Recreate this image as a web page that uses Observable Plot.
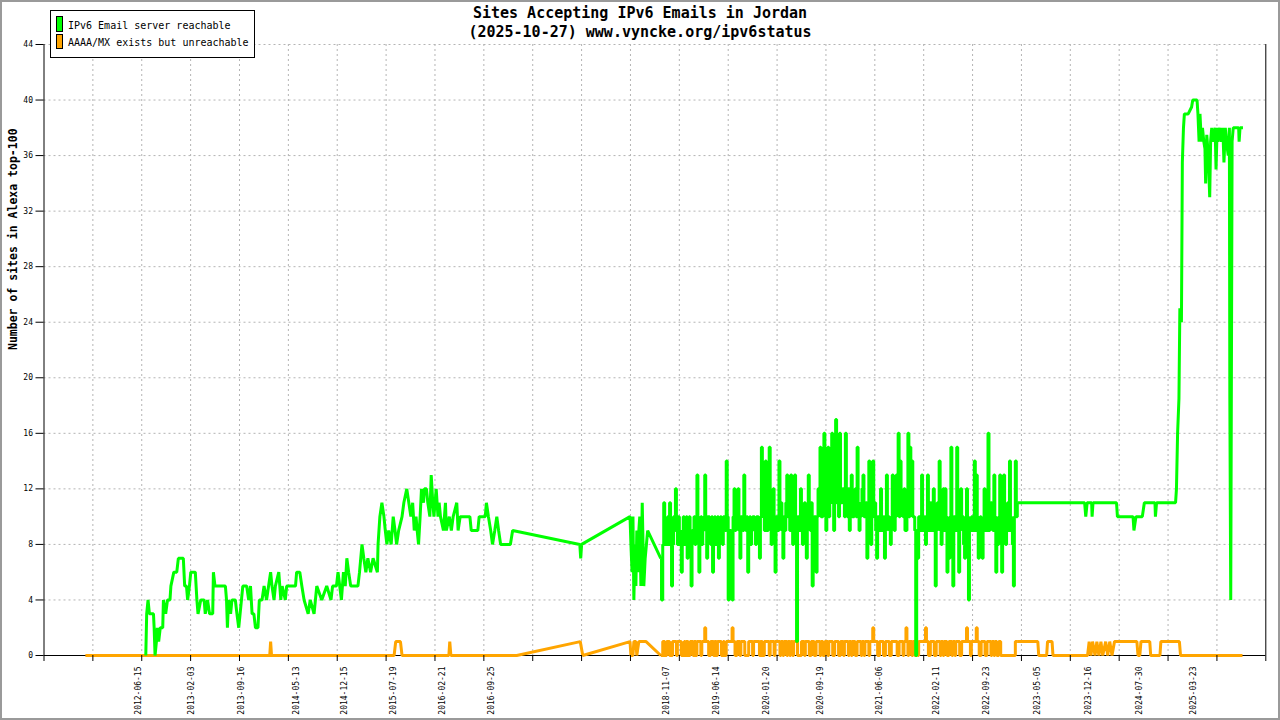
<!DOCTYPE html>
<html><head><meta charset="utf-8">
<script src="https://cdn.jsdelivr.net/npm/d3@7"></script>
<script src="https://cdn.jsdelivr.net/npm/@observablehq/plot@0.6"></script>
<style>
body{margin:0;background:#fff;}
#wrap{position:relative;width:1280px;height:720px;overflow:hidden;font-family:"DejaVu Sans Mono",monospace;background:#fff;}
#wrap svg{position:absolute;left:0;top:0;}
.title{position:absolute;left:0;width:1280px;text-align:center;font-size:15px;line-height:19px;color:#000;font-weight:bold;white-space:pre;}
#legend{position:absolute;left:50px;top:10px;width:203px;height:46px;border:1px solid #000;background:#fff;font-size:10px;color:#000;}
.sw{position:absolute;left:5px;width:5px;border:1px solid #000;}
.lt{position:absolute;left:17px;line-height:12px;white-space:pre;}
#border{position:absolute;left:0;top:0;width:1280px;height:720px;box-sizing:border-box;border:2px solid #9a9a9a;pointer-events:none;}
</style></head>
<body>
<div id="wrap">
  <div id="chart"></div>
  <div class="title" id="t1" style="top:4px"></div>
  <div class="title" id="t2" style="top:23px"></div>
  <div id="legend"></div>
  <div id="border"></div>
</div>
<script>
// ---- text ----
const titleLines = ["Sites Accepting IPv6 Emails in Jordan", "(2025-10-27) www.vyncke.org/ipv6status"];
const yTitle = "Number of sites in Alexa top-100";
const seriesNames = ["IPv6 Email server reachable", "AAAA/MX exists but unreachable"];
const seriesColors = ["#00ff00", "#ffa500"];

// ---- axes ----
const baseDate = "2012-06-15";          // day 0 of the day offsets below
const xDomainDays = [-417, 4985];
const yTicks = [0, 4, 8, 12, 16, 20, 24, 28, 32, 36, 40, 44];
const labelDates = ["2012-06-15","2013-02-03","2013-09-16","2014-05-13","2014-12-15","2015-07-19","2016-02-21","2016-09-25",
  "2018-11-07","2019-06-14","2020-01-20","2020-09-19","2021-06-06","2022-02-11","2022-09-23","2023-05-05","2023-12-16",
  "2024-07-30","2025-03-23"];
const xTickCount = 26;

// ---- series: [day offset, value] ----
const reachEarly = [[33,0],[37,3],[43,4],[49,3],[67,3],[70,2],[74,0],[80,1],[84,2],[90,1],[97,2],[108,2],[111,4],[121,3],[129,4],
[140,4],[144,5],[157,6],[170,6],[177,7],[199,7],[205,5],[213,5],[218,4],[226,5],[232,6],[252,6],[259,4],[264,3],[276,4],[291,4],
[296,3],[306,4],[315,3],[329,3],[332,6],[339,5],[385,5],[390,4],[394,2],[399,4],[408,3],[414,4],[429,4],[436,3],[444,2],[450,3],
[462,5],[479,5],[488,4],[496,5],[503,3],[511,3],[518,2],[529,2],[535,4],[547,4],[556,5],[567,4],[576,5],[585,6],[591,5],[600,4],
[606,5],[621,6],[630,4],[636,5],[650,4],[656,5],[695,5],[700,6],[714,6],[723,5],[733,4],[751,3],[760,4],[777,3],[789,5],[811,4],
[833,5],[852,4],[859,5],[876,5],[883,6],[898,4],[907,6],[915,5],[922,7],[930,6],[939,5],[971,5],[978,6],[989,8],[997,7],[1006,6],
[1015,7],[1027,6],[1038,7],[1057,6],[1060,8],[1068,10],[1077,11],[1086,10],[1092,9],[1099,8],[1107,9],[1118,8],[1127,10],[1135,9],
[1142,8],[1151,9],[1166,10],[1174,11],[1187,12],[1196,11],[1205,10],[1213,11],[1220,9],[1228,10],[1233,9],[1239,8],[1246,10],
[1252,12],[1261,11],[1265,12],[1274,12],[1280,11],[1289,10],[1295,13],[1302,11],[1307,10],[1317,12],[1325,10],[1330,11],[1336,10],
[1349,9],[1358,11],[1362,9],[1375,10],[1384,9],[1392,10],[1408,11],[1414,9],[1423,10],[1466,10],[1472,9],[1501,9],[1507,10],
[1534,10],[1539,11],[1548,10],[1558,9],[1566,8],[1576,9],[1585,10],[1593,9],[1602,8],[1645,8],[1655,9],[1952,8],[1956,7],[1960,8],
[2174,10],[2178,8],[2183,6],[2187,10],[2191,4],[2196,8],[2200,5],[2204,9],[2209,6],[2213,9],[2217,10],[2222,5],[2228,11],[2235,5],
[2241,7],[2252,9],[2310,7]];
const denseStartDay = 2316.5;
const denseStepDays = 4.3185;
const reachDense = [
4,8,11,9,8,9,10,8,11,9,5,8,10,9,12,9,8,10,
9,8,6,9,10,8,8,10,7,9,10,8,5,9,9,10,8,9,13,10,6,9,10,8,9,10,13,9,7,10,10,9,8,10,6,9,10,8,9,10,7,9,10,9,8,10,10,9,14,10,
4,9,9,8,4,10,12,9,10,11,12,9,7,10,10,9,13,10,9,10,6,9,10,8,9,10,10,9,8,10,10,9,7,10,15,11,10,9,14,10,9,11,15,10,8,10,12,9,6,10,
10,9,14,10,11,9,7,10,9,11,13,10,10,9,13,10,8,10,13,9,1,10,10,9,12,10,8,10,11,9,7,10,13,10,9,11,5,9,10,10,6,10,12,11,15,10,10,11,16,11,
9,11,15,10,11,12,16,11,9,12,17,11,11,10,16,11,11,12,12,10,16,11,10,12,9,11,13,10,10,11,12,10,15,11,9,10,11,12,13,10,10,11,7,10,14,11,8,10,14,10,
11,9,7,10,10,9,12,10,9,10,7,9,13,10,10,9,8,10,13,11,9,10,13,11,16,10,14,11,11,10,12,9,9,11,16,10,15,11,14,10,10,9,0,9,7,10,10,9,13,10,
9,10,8,9,13,10,9,11,10,9,12,10,5,9,11,10,14,9,8,10,12,9,12,10,6,9,7,10,15,9,5,10,10,9,15,10,6,9,12,10,10,8,7,9,12,10,4,9,9,10,
9,10,14,9,13,10,7,9,10,8,7,9,12,10,9,10,16,9,10,11,10,9,13,10,6,9,8,10,13,9,6,10,13,9,8,10,11,9,14,10,9,8,5,10,14,10,11];
const reachLate = [[3889,11],[4184,11],[4189,10],[4195,11],[4215,11],[4217,10],[4221,11],[4325,11],[4329,10],[4398,10],[4402,9],
[4411,10],[4439,10],[4448,11],[4495,11],[4497,10],[4502,11],[4586,11],[4590,12],[4595,16],[4601,18.5],[4605,25],[4612,24],
[4616,35.5],[4621,38],[4625,39],[4642,39],[4657,39.5],[4662,40],[4681,40],[4685,39],[4690,37],[4694,39],[4700,37],[4705,38],
[4711,37],[4716,36.5],[4719,34],[4724,37.5],[4731,36],[4737,33],[4741,37],[4746,38],[4752,37],[4761,38],[4765,35],[4770,38],
[4774,37],[4782,38],[4789,37],[4795,38],[4800,35.5],[4806,38],[4811,37],[4819,36],[4824,38],[4826,18.5],[4830,4],[4836,37],
[4841,38],[4865,38],[4867,37],[4871,38],[4884,38]];

const unreachEarly = [[-234,0],[581,0],[585,1],[589,0],[1131,0],[1138,1],[1159,1],[1166,0],[1373,0],[1377,1],[1382,0],[1673,0],
[1954,1],[1965,0],[2174,1],[2178,0],[2187,0],[2191,1],[2200,1],[2204,0],[2213,1],[2226,1],[2245,1],[2310,0]];
const unreachDense = [
0,1,1,0,0,1,1,1,0,0,0,1,1,1,1,0,1,1,
1,1,0,0,0,1,0,1,1,0,0,1,1,1,0,1,1,0,1,1,1,1,0,1,1,1,2,1,1,1,0,0,1,1,1,0,1,1,0,1,1,1,1,0,0,1,0,0,1,1,
1,1,1,1,2,1,1,0,0,1,1,1,0,1,1,1,1,0,0,0,0,1,1,1,1,0,1,1,1,1,1,1,0,1,1,0,0,1,1,1,1,1,0,1,1,1,1,0,1,1,
1,1,1,0,1,1,0,1,1,1,0,1,1,0,1,1,0,1,1,1,1,0,0,0,0,1,1,1,0,1,1,1,1,0,0,1,1,1,0,0,1,1,1,1,0,1,1,0,0,1,
1,1,0,1,1,1,1,0,0,1,1,1,1,0,0,1,1,1,0,1,1,1,1,0,1,1,0,1,1,1,0,0,1,1,1,1,0,1,1,0,1,1,1,1,0,1,1,1,2,1,
1,1,1,0,0,1,1,1,1,0,0,1,1,1,1,0,0,1,1,1,1,1,1,0,0,1,1,1,1,0,1,1,2,1,0,1,1,1,0,1,1,0,1,1,0,1,1,1,1,1,
1,1,2,1,1,0,0,1,1,1,1,0,0,1,1,1,1,0,1,1,0,1,1,1,0,0,1,1,1,0,1,1,0,1,1,1,1,0,0,1,1,1,1,1,2,1,1,1,0,1,
1,1,1,1,2,1,1,0,0,1,1,1,1,0,0,1,1,1,1,0,1,1,0,1,1,0,0,1,1,0,0,0,0,0,0,0,0,0,0,0,0,0,0,0,1,1,1];
const unreachLate = [[3889,1],[3977,1],[3981,0],[4016,0],[4020,1],[4040,1],[4044,0],[4197,0],[4204,1],[4212,0],[4219,1],[4230,0],
[4238,1],[4247,0],[4256,1],[4264,0],[4277,1],[4286,0],[4295,1],[4305,0],[4316,1],[4415,1],[4420,0],[4428,0],[4433,1],[4472,1],
[4476,0],[4517,0],[4521,1],[4603,1],[4608,0],[4882,0]];

// ---- build ----
const base = Date.parse(baseDate + "T00:00:00Z");
const toDate = d => new Date(base + d * 864e5);
const rows = pairs => pairs.map(([d, v]) => ({date: toDate(d), v}));
const denseRows = vals => vals.map((v, i) => ({date: toDate(denseStartDay + i * denseStepDays), v}));
const xDomain = xDomainDays.map(toDate);
const tickDates = d3.range(xTickCount).map(i => toDate(xDomainDays[0] + i * (xDomainDays[1] - xDomainDays[0]) / (xTickCount - 1)));
const labelDateObjs = labelDates.map(s => new Date(s + "T00:00:00Z"));

function seriesMarks(early, dense, late, color) {
  const e = rows(early), m = denseRows(dense), l = rows(late);
  const common = {x: "date", y: "v", stroke: color, strokeWidth: 3, strokeLinejoin: "miter", strokeLinecap: "butt"};
  return [
    Plot.line(e, common),
    Plot.line([e[e.length - 1], ...m, l[0]], {...common, curve: "step"}),
    Plot.line(l, common)
  ];
}

const gridStyle = {stroke: "#b4b4b4", strokeOpacity: 1, strokeWidth: 1, strokeDasharray: "2,3"};

const chart = Plot.plot({
  width: 1280, height: 720,
  marginLeft: 43.5, marginRight: 14.7, marginTop: 44, marginBottom: 65,
  style: {fontFamily: "DejaVu Sans Mono", background: "transparent", color: "#000"},
  x: {type: "utc", domain: xDomain},
  y: {domain: [0, 44]},
  marks: [
    Plot.gridY(yTicks.filter(v => v > 0), gridStyle),
    Plot.gridX(tickDates.slice(1, -1), gridStyle),
    Plot.ruleY([0], {stroke: "#000"}),
    Plot.ruleX([xDomain[0], xDomain[1]], {stroke: "#000"}),
    ...seriesMarks(unreachEarly, unreachDense, unreachLate, seriesColors[1]),
    ...seriesMarks(reachEarly, reachDense, reachLate, seriesColors[0]),
    Plot.axisY(yTicks, {tickSize: 8, tickPadding: 3, fontSize: 8, label: null}),
    Plot.axisX(tickDates, {tickSize: 6, tickFormat: () => "", label: null}),
    Plot.axisX(labelDateObjs, {tickSize: 0, tickPadding: 11, tickRotate: -90, fontSize: 8, tickFormat: d3.utcFormat("%Y-%m-%d"), label: null}),
    Plot.text([yTitle], {text: d => d, frameAnchor: "left", dx: -31, rotate: -90, fontWeight: "bold", fontSize: 11.5})
  ]
});
document.getElementById("chart").appendChild(chart);

document.getElementById("t1").textContent = titleLines[0];
document.getElementById("t2").textContent = titleLines[1];

const legend = document.getElementById("legend");
const swTops = [5, 23], swHeights = [14, 13], textTops = [9, 26];
seriesNames.forEach((name, i) => {
  const sw = document.createElement("div");
  sw.className = "sw";
  sw.style.top = swTops[i] + "px";
  sw.style.height = swHeights[i] + "px";
  sw.style.background = seriesColors[i];
  legend.appendChild(sw);
  const t = document.createElement("div");
  t.className = "lt";
  t.style.top = textTops[i] + "px";
  t.textContent = name;
  legend.appendChild(t);
});
</script>
</body></html>
